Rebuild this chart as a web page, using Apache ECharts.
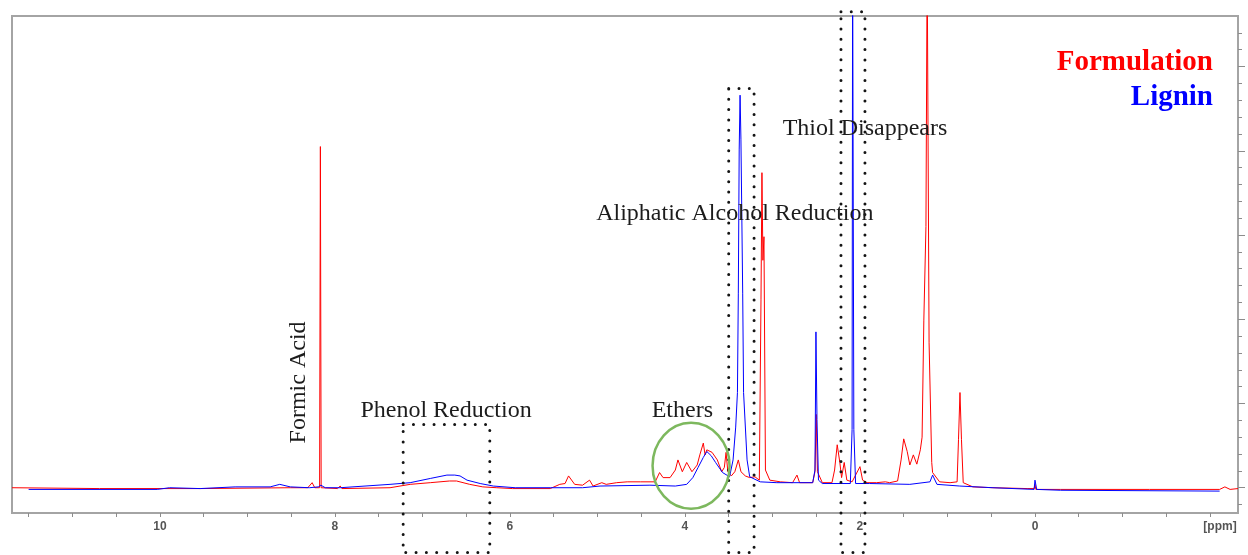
<!DOCTYPE html>
<html>
<head>
<meta charset="utf-8">
<title>1H NMR – Formulation vs Lignin</title>
<script src="https://cdn.jsdelivr.net/npm/echarts@6/dist/echarts.min.js"></script>
<style>
  html, body { margin: 0; padding: 0; background: #ffffff; }
  #chart { width: 1248px; height: 555px; }
</style>
</head>
<body>
<div id="chart"></div>
<script>
// Spectrum traces as [chemical shift (ppm), intensity] pairs, high ppm first.
const formulation = [
  [11.69, 0], [10.69, -0.01], [9.54, -0.01], [8.51, 0], [8.31, 0], [8.26, 0.06], [8.23, 0],
  [8.175, 0], [8.166, 4.05], [8.157, 0], [7.97, -0.01], [7.94, 0.02], [7.92, -0.01], [7.37, 0],
  [7.14, 0.04], [6.91, 0.06], [6.69, 0.08], [6.61, 0.08], [6.46, 0.04], [6.31, 0.01], [6.15, 0],
  [5.97, -0.01], [5.54, -0.01], [5.43, 0.04], [5.37, 0.05], [5.33, 0.14], [5.26, 0.04], [5.17, 0.03],
  [5.09, 0.09], [5.05, 0.02], [4.95, 0.06], [4.90, 0.04], [4.78, 0.06], [4.66, 0.07], [4.51, 0.07],
  [4.34, 0.07], [4.29, 0.18], [4.25, 0.12], [4.17, 0.12], [4.11, 0.21], [4.08, 0.33], [4.03, 0.19],
  [3.98, 0.30], [3.92, 0.19], [3.86, 0.27], [3.83, 0.39], [3.79, 0.53], [3.77, 0.39], [3.75, 0.45],
  [3.69, 0.42], [3.63, 0.33], [3.58, 0.19], [3.55, 0.24], [3.53, 0.42], [3.51, 0.19], [3.47, 0.14],
  [3.43, 0.19], [3.39, 0.33], [3.36, 0.19], [3.31, 0.14], [3.26, 0.12], [3.20, 0.13], [3.15, 0.09],
  [3.131, 2.23], [3.12, 3.74], [3.109, 2.70], [3.097, 2.98], [3.08, 0.21], [3.03, 0.09], [2.91, 0.07],
  [2.77, 0.06], [2.72, 0.15], [2.69, 0.06], [2.54, 0.06], [2.514, 0.19], [2.50, 0.87], [2.486, 0.19],
  [2.43, 0.06], [2.32, 0.06], [2.29, 0.21], [2.26, 0.51], [2.23, 0.30], [2.21, 0.12], [2.18, 0.30],
  [2.15, 0.09], [2.09, 0.07], [2.02, 0.21], [2.00, 0.25], [1.97, 0.09], [1.92, 0.06], [1.81, 0.06],
  [1.71, 0.07], [1.66, 0.06], [1.57, 0.08], [1.53, 0.33], [1.50, 0.58], [1.46, 0.43], [1.43, 0.27],
  [1.39, 0.39], [1.35, 0.28], [1.31, 0.45], [1.29, 0.60], [1.27, 1.99], [1.246, 3.10], [1.232, 6.3],
  [1.21, 1.72], [1.18, 0.30], [1.17, 0.18], [1.09, 0.07], [0.97, 0.06], [0.89, 0.07], [0.874, 0.57],
  [0.857, 1.13], [0.84, 0.57], [0.82, 0.06], [0.71, 0.01], [0.48, 0], [0.09, -0.01], [0.01, -0.01],
  [0, 0.04], [-0.01, -0.02], [-0.29, -0.02], [-1.31, -0.02], [-2.11, -0.02], [-2.17, 0.01],
  [-2.23, -0.02], [-2.32, -0.01]
];

const lignin = [
  [11.50, -0.02], [10.03, -0.02], [9.89, 0], [9.54, -0.01], [9.14, 0.01], [8.74, 0.01], [8.63, 0.04],
  [8.51, 0.01], [8.29, 0], [8.19, 0.01], [8.16, 0.03], [8.11, 0], [7.94, 0], [7.37, 0.04], [7.14, 0.06],
  [6.91, 0.11], [6.72, 0.15], [6.63, 0.15], [6.57, 0.14], [6.49, 0.09], [6.34, 0.05], [6.19, 0.02],
  [5.94, 0], [5.54, 0], [5.17, 0], [4.97, 0.02], [4.40, 0.03], [4.11, 0.02], [3.98, 0.04], [3.91, 0.12],
  [3.85, 0.24], [3.79, 0.36], [3.75, 0.43], [3.70, 0.38], [3.65, 0.30], [3.57, 0.18], [3.49, 0.13],
  [3.45, 0.33], [3.42, 0.72], [3.40, 1.13], [3.39, 2.31], [3.38, 4.01], [3.37, 4.66], [3.36, 4.13],
  [3.34, 2.31], [3.33, 1.13], [3.29, 0.33], [3.26, 0.13], [3.14, 0.07], [2.95, 0.06], [2.54, 0.06],
  [2.514, 0.21], [2.503, 1.85], [2.491, 0.81], [2.474, 0.09], [2.43, 0.05], [2.11, 0.05], [2.09, 0.69],
  [2.084, 6.3], [2.076, 6.3], [2.07, 0.69], [2.05, 0.05], [1.89, 0.05], [1.43, 0.04], [1.20, 0.07],
  [1.17, 0.15], [1.12, 0.04], [0.86, 0.02], [0.48, 0], [0.01, -0.02], [0, 0.09], [-0.02, -0.02],
  [-0.29, -0.03], [-2.11, -0.04]
];

// Axis ticks and labels
const xLabelValues = [10, 8, 6, 4, 2, 0, -2];
const xTickValues = [-2, -1.5, -1, -0.5, 0, 0.5, 1, 1.5, 2, 2.5, 3, 3.5, 4, 4.5, 5, 5.5,
  6, 6.5, 7, 7.5, 8, 8.5, 9, 9.5, 10, 10.5, 11, 11.5];
const yMajorTicks = [0, 1, 2, 3, 4, 5];
const yMinorTicks = [-0.2, 0.2, 0.4, 0.6, 0.8, 1.2, 1.4, 1.6, 1.8, 2.2, 2.4, 2.6, 2.8,
  3.2, 3.4, 3.6, 3.8, 4.2, 4.4, 4.6, 4.8, 5.2, 5.4];

// Highlighted spectral regions: [ppm left, ppm right, top intensity]
const phenolRegion = [7.22, 6.23, 0.75];
const alcoholRegion = [3.50, 3.21, 4.74];
const thiolRegion = [2.217, 1.943, 5.65];
const regionFloor = -0.77;

// Ether envelope marker: centre and half-extents in data units
const etherCircle = { ppm: 3.93, value: 0.26, halfPpm: 0.44, halfValue: 0.51 };

// Annotation labels anchored at [ppm, intensity]
const annotations = [
  { text: 'Formic Acid', at: [8.41, 1.25], vertical: true },
  { text: 'Phenol Reduction', at: [6.73, 0.91] },
  { text: 'Ethers', at: [4.03, 0.91] },
  { text: 'Aliphatic Alcohol Reduction', at: [3.43, 3.25] },
  { text: 'Thiol Disappears', at: [1.943, 4.26] }
];

const X_MIN = -2.32, X_MAX = 11.69, Y_MIN = -0.3, Y_MAX = 5.6;
const SERIF = '"Liberation Serif", "Times New Roman", serif';

const chart = echarts.init(document.getElementById('chart'), null, { renderer: 'canvas' });

const tickLine = { color: '#8c8c8c', width: 1 };
const hiddenLine = { show: false, onZero: false };

chart.setOption({
  animation: false,
  backgroundColor: '#ffffff',
  grid: {
    left: 12, right: 10, top: 16, bottom: 42,
    show: true, borderColor: '#a4a4a4', borderWidth: 2, backgroundColor: 'transparent'
  },
  xAxis: {
    type: 'value',
    inverse: true,
    position: 'bottom',
    min: X_MIN,
    max: X_MAX,
    axisLine: hiddenLine,
    splitLine: { show: false },
    axisTick: {
      show: true, inside: false, length: 4,
      customValues: xTickValues, lineStyle: tickLine
    },
    axisLabel: {
      show: true,
      customValues: xLabelValues,
      margin: 8,
      color: '#555555',
      fontFamily: '"Liberation Sans", Arial, sans-serif',
      fontWeight: 'bold',
      fontSize: 12,
      formatter: v => (v === -2 ? '{u|[ppm]}' : String(v)),
      rich: {
        u: {
          padding: [0, 0, 0, 20],
          color: '#555555',
          fontFamily: '"Liberation Sans", Arial, sans-serif',
          fontWeight: 'bold',
          fontSize: 12
        }
      }
    }
  },
  yAxis: [
    {
      type: 'value', position: 'right', min: Y_MIN, max: Y_MAX,
      axisLine: hiddenLine, splitLine: { show: false }, axisLabel: { show: false },
      axisTick: { show: true, inside: false, length: 7, customValues: yMajorTicks, lineStyle: tickLine }
    },
    {
      type: 'value', position: 'right', min: Y_MIN, max: Y_MAX,
      axisLine: hiddenLine, splitLine: { show: false }, axisLabel: { show: false },
      axisTick: { show: true, inside: false, length: 4, customValues: yMinorTicks, lineStyle: tickLine }
    }
  ],
  series: [
    {
      name: 'Formulation', type: 'line', data: formulation,
      symbol: 'none', clip: true, z: 2,
      lineStyle: { color: '#ff0000', width: 1 }
    },
    {
      name: 'Lignin', type: 'line', data: lignin,
      symbol: 'none', clip: true, z: 3,
      lineStyle: { color: '#0000ff', width: 1 }
    }
  ]
});

// Overlays placed through the chart's own coordinate system
const toPx = (p, v) => chart.convertToPixel({ xAxisIndex: 0, yAxisIndex: 0 }, [p, v]);

function dottedBox(region) {
  const a = toPx(region[0], region[2]);
  const b = toPx(region[1], regionFloor);
  return {
    type: 'rect', z: 100, silent: true,
    shape: { x: a[0], y: a[1], width: b[0] - a[0], height: b[1] - a[1] },
    style: { fill: 'none', stroke: '#141414', lineWidth: 3, lineDash: [0, 10.3], lineCap: 'round' }
  };
}

const c = toPx(etherCircle.ppm, etherCircle.value);
const e = toPx(etherCircle.ppm - etherCircle.halfPpm, etherCircle.value + etherCircle.halfValue);

const graphics = [
  dottedBox(phenolRegion),
  dottedBox(alcoholRegion),
  dottedBox(thiolRegion),
  {
    type: 'ellipse', z: 100, silent: true,
    shape: { cx: c[0], cy: c[1], rx: e[0] - c[0], ry: c[1] - e[1] },
    style: { fill: 'none', stroke: '#7db85e', lineWidth: 2.5 }
  }
];

annotations.forEach(a => {
  const p = toPx(a.at[0], a.at[1]);
  graphics.push({
    type: 'text', z: 101, silent: true,
    x: p[0], y: p[1],
    rotation: a.vertical ? Math.PI / 2 : 0,
    style: {
      text: a.text, font: '24px ' + SERIF, fill: '#1c1c1c',
      align: 'center', verticalAlign: 'middle',
      textAlign: 'center', textVerticalAlign: 'middle'
    }
  });
});

// Series key in the upper right corner
[['Formulation', '#ff0000', 63], ['Lignin', '#0000ff', 98]].forEach(([t, col, y]) => {
  graphics.push({
    type: 'text', z: 101, silent: true, x: 1213, y: y,
    style: {
      text: t, font: 'bold 29px ' + SERIF, fill: col,
      align: 'right', verticalAlign: 'middle',
      textAlign: 'right', textVerticalAlign: 'middle'
    }
  });
});

chart.setOption({ graphic: graphics });
</script>
</body>
</html>
